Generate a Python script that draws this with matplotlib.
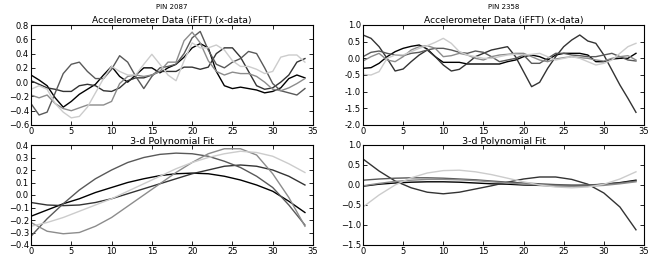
import numpy as np
from matplotlib import pyplot as plt

# raw samples, x = 0..34
pins = ["PIN 2087", "PIN 2358"]
greys = ["0.0", "0.2", "0.35", "0.55", "0.8"]

raw_2087 = [
    [0.10, 0.03, -0.05, -0.22, -0.35, -0.27, -0.17, -0.10, -0.03, 0.10, 0.22, 0.08, 0.00, 0.10, 0.20, 0.20, 0.13,
     0.20, 0.25, 0.35, 0.48, 0.54, 0.48, 0.15, -0.05, -0.09, -0.07, -0.09, -0.11, -0.15, -0.13, -0.08, 0.05, 0.10, 0.06],
    [0.02, -0.03, -0.08, -0.10, -0.13, -0.13, -0.05, -0.03, -0.05, -0.12, -0.13, -0.08, 0.02, 0.06, 0.06, 0.10, 0.15,
     0.15, 0.15, 0.21, 0.21, 0.18, 0.21, 0.40, 0.48, 0.48, 0.35, 0.15, -0.05, -0.10, -0.08, 0.00, 0.10, 0.28, 0.33],
    [-0.30, -0.46, -0.42, -0.15, 0.12, 0.25, 0.28, 0.15, 0.05, 0.05, 0.18, 0.37, 0.28, 0.08, -0.09, 0.08, 0.20,
     0.22, 0.25, 0.40, 0.62, 0.71, 0.45, 0.25, 0.20, 0.28, 0.33, 0.43, 0.40, 0.20, -0.02, -0.12, -0.15, -0.18, -0.09],
    [-0.18, -0.22, -0.18, -0.30, -0.37, -0.40, -0.36, -0.32, -0.32, -0.32, -0.27, -0.02, 0.08, 0.10, 0.08, 0.10, 0.15,
     0.28, 0.28, 0.58, 0.70, 0.55, 0.30, 0.15, 0.10, 0.14, 0.12, 0.12, 0.08, 0.00, -0.10, -0.12, -0.08, -0.02, 0.05],
    [-0.10, -0.05, -0.10, -0.30, -0.42, -0.50, -0.48, -0.35, -0.15, 0.05, 0.22, 0.15, 0.10, 0.10, 0.25, 0.39, 0.25,
     0.10, 0.02, 0.30, 0.55, 0.48, 0.48, 0.52, 0.45, 0.30, 0.22, 0.22, 0.18, 0.12, 0.15, 0.35, 0.38, 0.38, 0.28],
]

raw_2358 = [
    [-0.30, -0.28, -0.15, 0.05, 0.20, 0.30, 0.36, 0.40, 0.28, 0.05, -0.12, -0.12, -0.12, -0.17, -0.17, -0.17, -0.17,
     -0.17, -0.10, -0.05, 0.05, 0.10, 0.05, -0.05, 0.10, 0.15, 0.15, 0.15, 0.10, -0.10, -0.10, -0.02, 0.00, 0.00, 0.15],
    [0.70, 0.60, 0.35, 0.00, -0.38, -0.32, -0.10, 0.10, 0.25, 0.05, -0.20, -0.38, -0.33, -0.15, 0.05, 0.15, 0.25,
     0.30, 0.35, 0.05, -0.40, -0.85, -0.72, -0.30, 0.05, 0.35, 0.55, 0.70, 0.52, 0.45, 0.10, -0.35, -0.80, -1.20, -1.62],
    [0.05, 0.18, 0.22, 0.15, 0.10, 0.08, 0.15, 0.18, 0.25, 0.30, 0.30, 0.25, 0.18, 0.15, 0.22, 0.18, 0.05,
     -0.10, -0.05, 0.00, 0.10, -0.15, -0.15, 0.00, 0.15, 0.15, 0.10, 0.08, 0.05, 0.05, 0.10, 0.15, 0.05, -0.05, -0.08],
    [-0.08, 0.05, 0.15, -0.05, -0.10, 0.05, 0.25, 0.35, 0.38, 0.30, 0.05, 0.08, 0.15, 0.10, 0.00, -0.05, 0.05,
     0.10, 0.12, 0.15, 0.15, 0.05, -0.05, -0.10, -0.02, 0.02, 0.05, 0.02, 0.00, -0.05, -0.08, 0.00, 0.05, 0.08, -0.05],
    [-0.48, -0.50, -0.40, 0.00, 0.10, 0.10, 0.20, 0.30, 0.38, 0.48, 0.60, 0.45, 0.20, 0.10, 0.05, 0.00, 0.00,
     0.05, 0.10, 0.12, 0.10, 0.12, 0.15, 0.05, -0.05, 0.00, 0.05, 0.00, -0.10, -0.20, -0.15, -0.05, 0.15, 0.35, 0.45],
]

# 3rd order fit curves, read at x = 0, 2, ..., 34
fit_x = list(range(0, 35, 2))
fit_2087 = [
    [-0.17, -0.12, -0.07, -0.03, 0.02, 0.06, 0.10, 0.13, 0.155, 0.17, 0.175, 0.17, 0.15, 0.12, 0.08, 0.03, -0.05, -0.14],
    [-0.06, -0.08, -0.085, -0.08, -0.06, -0.03, 0.01, 0.05, 0.09, 0.13, 0.17, 0.20, 0.23, 0.24, 0.23, 0.20, 0.15, 0.08],
    [-0.33, -0.19, -0.07, 0.04, 0.13, 0.20, 0.26, 0.30, 0.325, 0.335, 0.33, 0.31, 0.27, 0.22, 0.15, 0.06, -0.08, -0.24],
    [-0.22, -0.29, -0.31, -0.30, -0.25, -0.18, -0.09, 0.00, 0.09, 0.18, 0.26, 0.33, 0.37, 0.37, 0.32, 0.17, -0.02, -0.25],
    [-0.25, -0.22, -0.18, -0.13, -0.08, -0.03, 0.03, 0.09, 0.15, 0.21, 0.26, 0.30, 0.33, 0.35, 0.34, 0.31, 0.25, 0.18],
]
fit_2358 = [
    [-0.03, 0.02, 0.05, 0.07, 0.08, 0.08, 0.07, 0.05, 0.03, 0.02, 0.00, -0.01, -0.02, -0.02, -0.01, 0.02, 0.06, 0.12],
    [0.65, 0.35, 0.10, -0.07, -0.18, -0.22, -0.18, -0.10, -0.02, 0.07, 0.15, 0.20, 0.20, 0.14, 0.02, -0.20, -0.55, -1.12],
    [0.12, 0.15, 0.17, 0.18, 0.18, 0.17, 0.15, 0.13, 0.10, 0.07, 0.05, 0.03, 0.01, 0.00, 0.00, 0.02, 0.05, 0.10],
    [-0.02, 0.04, 0.09, 0.12, 0.14, 0.14, 0.13, 0.11, 0.08, 0.05, 0.02, 0.00, -0.02, -0.03, -0.03, -0.01, 0.03, 0.08],
    [-0.55, -0.25, 0.00, 0.18, 0.30, 0.36, 0.37, 0.33, 0.26, 0.17, 0.08, 0.00, -0.05, -0.07, -0.05, 0.02, 0.15, 0.33],
]

top_ylim = [(-0.6, 0.8), (-2.0, 1.0)]
top_step = [0.2, 0.5]
bot_ylim = [(-0.4, 0.4), (-1.5, 1.0)]
bot_step = [0.1, 0.5]

W, H = 657, 259
fig = plt.figure(figsize=(W / 100., H / 100.), dpi=100)
lefts = [31, 363]
widths = [282, 281]


def style(ax, ylim, step):
    ax.set_xlim(0, 35)
    ax.set_ylim(*ylim)
    ax.set_xticks(np.arange(0, 36, 5))
    ax.set_yticks(np.arange(ylim[0], ylim[1] + step / 2, step))
    ax.tick_params(direction='in', top=True, right=True, length=3, width=0.6,
                   labelsize=6, pad=1.5)
    for s in ax.spines.values():
        s.set_linewidth(0.8)


raws = [raw_2087, raw_2358]
fits = [fit_2087, fit_2358]
for c in range(2):
    ax = fig.add_axes([lefts[c] / W, (H - 125) / H, widths[c] / W, 100. / H])
    for series, g in zip(raws[c], greys):
        ax.plot(range(len(series)), series, color=g, lw=1.0)
    style(ax, top_ylim[c], top_step[c])
    ax.set_title("Accelerometer Data (iFFT) (x-data)", fontsize=6.6, pad=1.5)
    if c == 1:
        ax.yaxis.set_major_formatter(plt.FormatStrFormatter('%.1f'))
    fig.text((lefts[c] + widths[c] / 2.) / W, 1 - 7. / H, pins[c], fontsize=5,
             ha='center', va='center')

    ax2 = fig.add_axes([lefts[c] / W, (H - 245) / H, widths[c] / W, 100. / H])
    for series, g in zip(fits[c], greys):
        ax2.plot(fit_x, series, color=g, lw=1.0)
    style(ax2, bot_ylim[c], bot_step[c])
    ax2.set_title("3-d Polynomial Fit", fontsize=6.8, pad=1)

fig.savefig("out.png", dpi=100)
